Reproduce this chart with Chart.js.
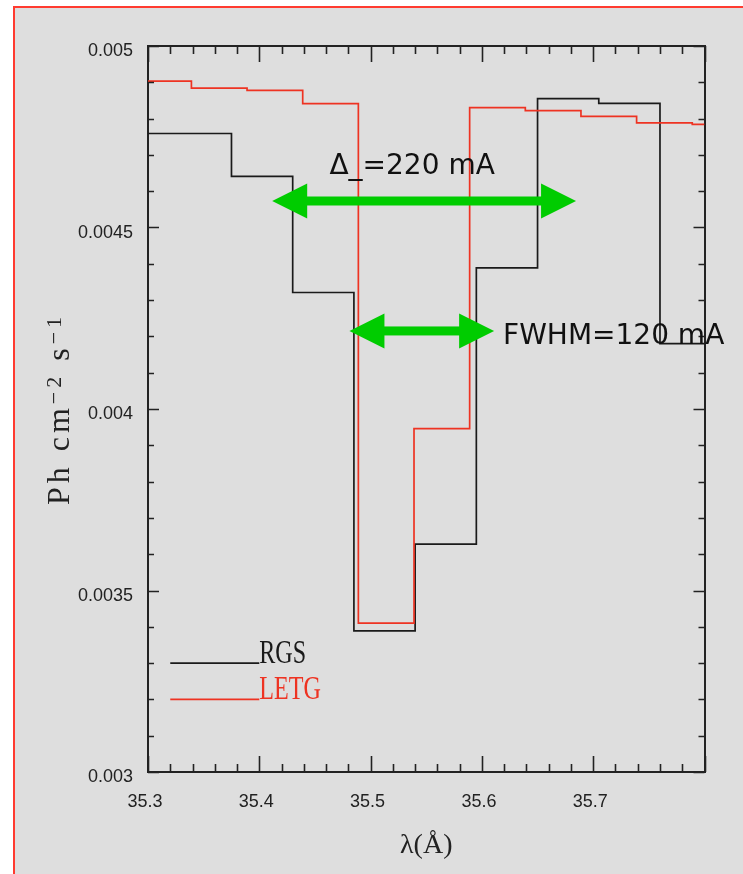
<!DOCTYPE html>
<html>
<head>
<meta charset="utf-8">
<script src="https://cdn.jsdelivr.net/npm/chart.js@4.4.1/dist/chart.umd.min.js"></script>
<style>
  html, body { margin: 0; padding: 0; background: #ffffff; }
  canvas { display: block; }
</style>
</head>
<body>
<canvas id="spectrum" width="743" height="874"></canvas>
<script>
// Bin left edges (Å) and flux per bin (ph cm^-2 s^-1)
const rgsEdges  = [35.300, 35.375, 35.430, 35.485, 35.540, 35.595, 35.650, 35.705, 35.760];
const rgsFlux   = [0.004759, 0.004641, 0.004321, 0.003389, 0.003628, 0.004389, 0.004855, 0.004842, 0.004180];
const letgEdges = [35.300, 35.339, 35.389, 35.439, 35.489, 35.539, 35.589, 35.639, 35.689, 35.739, 35.789];
const letgFlux  = [0.004903, 0.004884, 0.004878, 0.004841, 0.003410, 0.003946, 0.004830, 0.004822, 0.004806, 0.004788, 0.004784];

// Axes
const xRange = [35.3, 35.8];
const yRange = [0.003, 0.005];
const xTickValues = [35.3, 35.4, 35.5, 35.6, 35.7];
const xTickLabels = ['35.3', '35.4', '35.5', '35.6', '35.7'];
const yTickValues = [0.003, 0.0035, 0.004, 0.0045, 0.005];
const yTickLabels = ['0.003', '0.0035', '0.004', '0.0045', '0.005'];
const xTitle = 'λ(Å)';
// y title pieces: [text, superscript?]
const yTitleParts = [['Ph cm', false], ['−2', true], [' s', false], ['−1', true]];

// In-plot key
const seriesNames  = ['RGS', 'LETG'];
const seriesColors = ['#1a1a1a', '#ee3322'];
const keySpan   = [35.32, 35.40];
const keyLevels = [0.0033, 0.0032];

// Width annotations: arrow tip-to-tip span (Å), arrow level, note text and its anchor
const noteTexts   = ['Δ_=220 mA', 'FWHM=120 mA'];
const arrowSpans  = [[35.4116, 35.6846], [35.481, 35.611]];
const arrowLevels = [0.004573, 0.004215];
const noteAnchors = [[35.463, 0.004647], [35.619, 0.00418]];

// Each bin value holds from its left edge to the next edge
function stepPoints(edges, flux, end) {
  const pts = edges.map((x, i) => ({ x: x, y: flux[i] }));
  pts.push({ x: end, y: flux[flux.length - 1] });
  return pts;
}
function labelFor(values, labels, v) {
  const i = values.findIndex(t => Math.abs(t - v) < 1e-9);
  return i >= 0 ? labels[i] : '';
}

const axisColor = '#222222';

// Page frame: grey panel with a red rule on the top and left
const framePlugin = {
  id: 'frame',
  beforeDraw(chart) {
    const ctx = chart.ctx;
    ctx.save();
    ctx.fillStyle = '#ffffff';
    ctx.fillRect(0, 0, chart.width, chart.height);
    ctx.fillStyle = '#dedede';
    ctx.fillRect(15, 8, chart.width - 15, chart.height - 8);
    ctx.fillStyle = '#ff3b30';
    ctx.fillRect(13, 6, chart.width - 13, 2);
    ctx.fillRect(13, 6, 2, chart.height - 6);
    ctx.restore();
  }
};

// Inward tick marks on all four sides of the plot box
const innerTicksPlugin = {
  id: 'innerTicks',
  afterDatasetsDraw(chart) {
    const { ctx, chartArea: a, scales: { x, y } } = chart;
    ctx.save();
    ctx.strokeStyle = axisColor;
    ctx.lineWidth = 1.6;
    ctx.beginPath();
    const nx = Math.round((xRange[1] - xRange[0]) / 0.02);
    for (let i = 0; i <= nx; i++) {
      const px = Math.round(x.getPixelForValue(xRange[0] + i * 0.02)) + 0.5;
      const len = (i % 5 === 0) ? 16 : 8;
      ctx.moveTo(px, a.bottom); ctx.lineTo(px, a.bottom - len);
      ctx.moveTo(px, a.top);    ctx.lineTo(px, a.top + len);
    }
    const ny = Math.round((yRange[1] - yRange[0]) / 0.0001);
    for (let i = 0; i <= ny; i++) {
      const py = Math.round(y.getPixelForValue(yRange[0] + i * 0.0001)) + 0.5;
      const len = (i % 5 === 0) ? 11 : 6;
      ctx.moveTo(a.left, py);  ctx.lineTo(a.left + len, py);
      ctx.moveTo(a.right, py); ctx.lineTo(a.right - len, py);
    }
    ctx.stroke();
    ctx.restore();
  }
};

// y-axis title with raised exponents, key labels, width arrows and notes
const notesPlugin = {
  id: 'notes',
  afterDraw(chart) {
    const { ctx, chartArea: a, scales: { x, y } } = chart;
    ctx.save();

    // y-axis title, rotated, centred on the plot height
    ctx.save();
    ctx.fillStyle = axisColor;
    ctx.textBaseline = 'alphabetic';
    ctx.textAlign = 'left';
    ctx.letterSpacing = '4px';
    const bigFont = '32px "Liberation Serif"';
    const smallFont = '22px "Liberation Serif"';
    let total = 0;
    yTitleParts.forEach(p => { ctx.font = p[1] ? smallFont : bigFont; total += ctx.measureText(p[0]).width; });
    ctx.translate(69, (a.top + a.bottom) / 2);
    ctx.rotate(-Math.PI / 2);
    let cx = -total / 2;
    yTitleParts.forEach(p => {
      ctx.font = p[1] ? smallFont : bigFont;
      ctx.fillText(p[0], cx, p[1] ? -8 : 0);
      cx += ctx.measureText(p[0]).width;
    });
    ctx.restore();

    // key labels, condensed serif
    ctx.textBaseline = 'alphabetic';
    ctx.textAlign = 'left';
    ctx.font = '33px "Liberation Serif"';
    seriesNames.forEach((name, i) => {
      ctx.save();
      ctx.translate(x.getPixelForValue(keySpan[1]), y.getPixelForValue(keyLevels[i]));
      ctx.scale(0.73, 1);
      ctx.fillStyle = seriesColors[i];
      ctx.fillText(name, 0, 0);
      ctx.restore();
    });

    // double-headed arrows
    ctx.fillStyle = '#00cc00';
    const headLen = 35, headHalf = 17.5, shaft = 9;
    arrowSpans.forEach((span, i) => {
      const x1 = x.getPixelForValue(span[0]);
      const x2 = x.getPixelForValue(span[1]);
      const yy = y.getPixelForValue(arrowLevels[i]);
      ctx.fillRect(x1 + headLen - 1, yy - shaft / 2, (x2 - x1) - 2 * headLen + 2, shaft);
      ctx.beginPath();
      ctx.moveTo(x1, yy);
      ctx.lineTo(x1 + headLen, yy - headHalf);
      ctx.lineTo(x1 + headLen, yy + headHalf);
      ctx.closePath();
      ctx.fill();
      ctx.beginPath();
      ctx.moveTo(x2, yy);
      ctx.lineTo(x2 - headLen, yy - headHalf);
      ctx.lineTo(x2 - headLen, yy + headHalf);
      ctx.closePath();
      ctx.fill();
    });

    // notes
    ctx.fillStyle = '#111111';
    ctx.font = '28px "DejaVu Sans"';
    noteTexts.forEach((t, i) => {
      ctx.fillText(t, x.getPixelForValue(noteAnchors[i][0]), y.getPixelForValue(noteAnchors[i][1]));
    });
    ctx.restore();
  }
};

const datasets = [
  {
    label: seriesNames[0],
    data: stepPoints(rgsEdges, rgsFlux, xRange[1]),
    borderColor: seriesColors[0], borderWidth: 1.7,
    stepped: 'before', pointRadius: 0, fill: false, order: 2
  },
  {
    label: seriesNames[1],
    data: stepPoints(letgEdges, letgFlux, xRange[1]),
    borderColor: seriesColors[1], borderWidth: 1.7,
    stepped: 'before', pointRadius: 0, fill: false, order: 1
  },
  {
    label: seriesNames[0] + ' key',
    data: keySpan.map(v => ({ x: v, y: keyLevels[0] })),
    borderColor: seriesColors[0], borderWidth: 1.7, pointRadius: 0, order: 3
  },
  {
    label: seriesNames[1] + ' key',
    data: keySpan.map(v => ({ x: v, y: keyLevels[1] })),
    borderColor: seriesColors[1], borderWidth: 1.7, pointRadius: 0, order: 3
  }
];

const plainBorder = { display: true, color: axisColor, width: 2 };
const noGrid = { display: false, drawTicks: false, tickLength: 0 };

new Chart(document.getElementById('spectrum'), {
  type: 'line',
  data: { datasets: datasets },
  options: {
    responsive: false,
    animation: false,
    devicePixelRatio: 1,
    layout: { padding: 0 },
    plugins: { legend: { display: false }, tooltip: { enabled: false } },
    scales: {
      x: {
        type: 'linear', position: 'bottom',
        min: xRange[0], max: xRange[1],
        afterBuildTicks(s) { s.ticks = xTickValues.map(v => ({ value: v })); },
        afterFit(s) { s.height = 102; },
        ticks: {
          callback: v => labelFor(xTickValues, xTickLabels, v),
          font: { family: 'Liberation Sans', size: 18 },
          color: axisColor, padding: 19, labelOffset: -3,
          autoSkip: false, maxRotation: 0
        },
        grid: noGrid, border: plainBorder,
        title: {
          display: true, text: xTitle, color: axisColor,
          font: { family: 'Liberation Serif', size: 28 },
          padding: { top: 0, bottom: 12 }
        }
      },
      xTop: {
        type: 'linear', position: 'top',
        min: xRange[0], max: xRange[1],
        afterFit(s) { s.height = 46; },
        ticks: { display: false }, grid: noGrid, border: plainBorder
      },
      y: {
        type: 'linear', position: 'left',
        min: yRange[0], max: yRange[1],
        afterBuildTicks(s) { s.ticks = yTickValues.map(v => ({ value: v })); },
        afterFit(s) { s.width = 148; },
        ticks: {
          callback: v => labelFor(yTickValues, yTickLabels, v),
          font: { family: 'Liberation Sans', size: 18 },
          color: axisColor, padding: 15, labelOffset: 5.5, autoSkip: false
        },
        grid: noGrid, border: plainBorder
      },
      yRight: {
        type: 'linear', position: 'right',
        min: yRange[0], max: yRange[1],
        afterFit(s) { s.width = 38.5; },
        ticks: { display: false }, grid: noGrid, border: plainBorder
      }
    }
  },
  plugins: [framePlugin, innerTicksPlugin, notesPlugin]
});
</script>
</body>
</html>
